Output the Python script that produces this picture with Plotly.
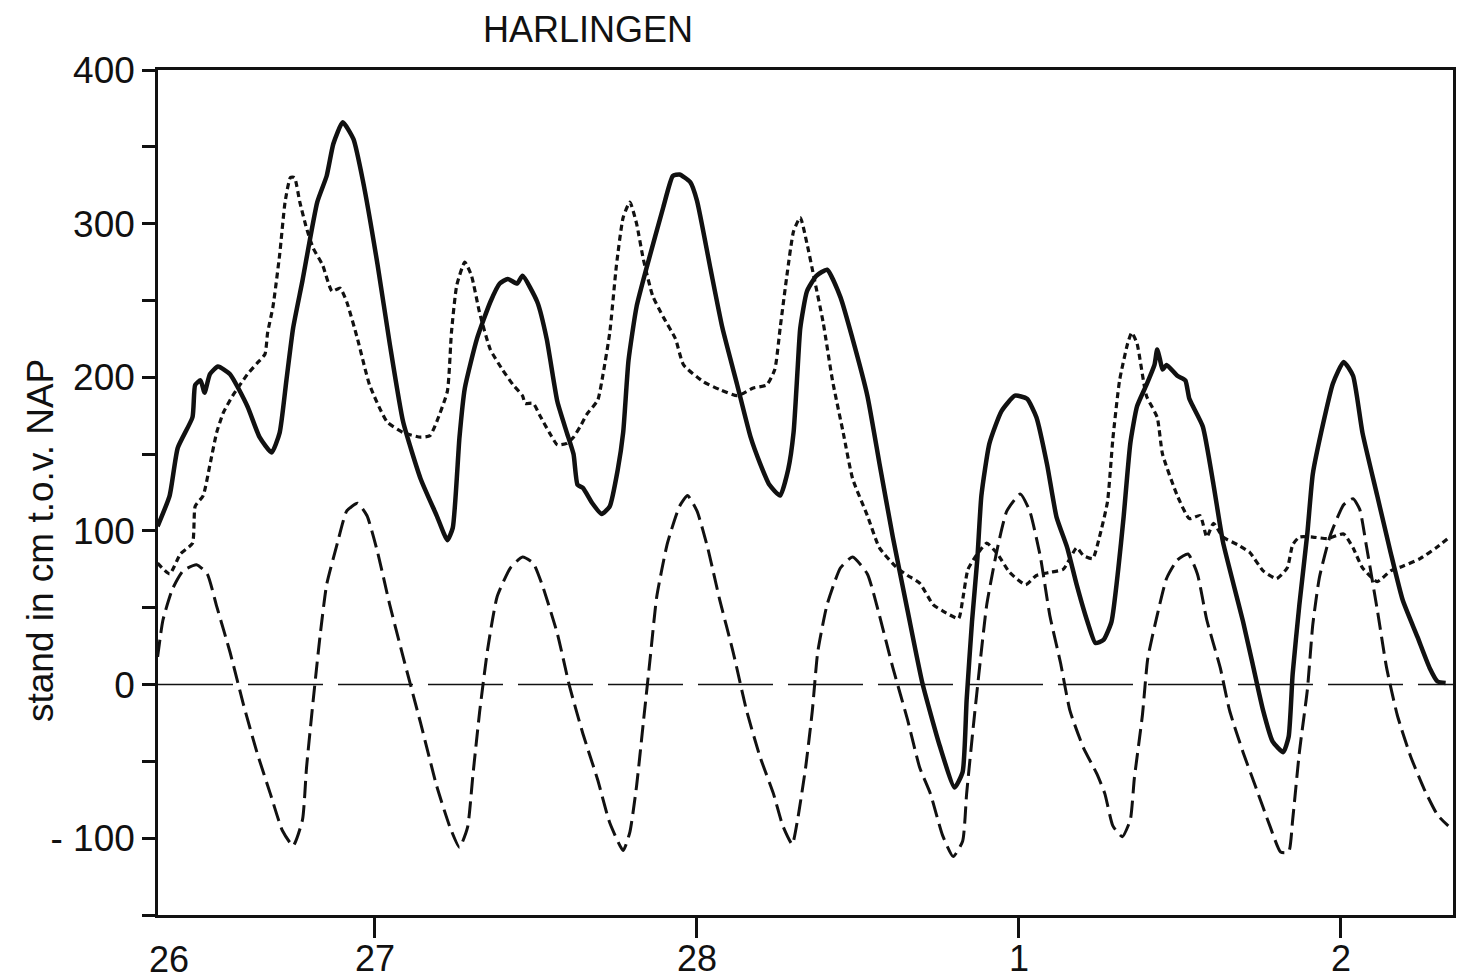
import plotly.graph_objects as go

# time axis: hours since 26 Feb 00:00
day_tick_hours = [24, 48, 72, 96]
day_tick_labels = ["27", "28", "1", "2"]
first_day_label = "26"
x_start_hour = 7.83
x_end_hour = 104.35

y_tick_values = [-150, -100, -50, 0, 50, 100, 150, 200, 250, 300, 350, 400]
y_tick_labels = ["", "- 100", "", "0", "", "100", "", "200", "", "300", "", "400"]

# observed water level (solid)
obs_hour = [7.8, 8.7, 9.3, 10.4, 10.6, 11.0, 11.3, 11.7, 12.3, 13.2,
            14.5, 15.4, 16.3, 16.9, 17.4, 17.9, 18.6, 19.7, 20.4, 20.9,
            21.6, 22.4, 23.1, 24.2, 25.1, 26.1, 27.4, 28.6, 29.4, 29.8,
            30.3, 30.7, 31.6, 32.6, 33.3, 33.9, 34.6, 35.0, 36.1, 36.8,
            37.6, 38.3, 38.8, 39.1, 39.5, 40.2, 40.9, 41.5, 42.1, 42.5,
            42.9, 43.5, 44.3, 45.5, 46.2, 46.7, 47.5, 48.0, 49.0, 49.9,
            51.0, 52.0, 52.7, 53.4, 54.2, 54.8, 55.2, 55.5, 55.7, 56.2,
            56.9, 57.7, 58.7, 59.6, 60.7, 61.6, 62.6, 63.7, 64.8, 66.1,
            67.2, 67.8, 68.1, 68.5, 68.9, 69.2, 69.8, 70.7, 71.7, 72.6,
            73.3, 74.1, 74.8, 75.6, 76.3, 77.1, 77.7, 78.3, 78.9, 79.4,
            79.8, 80.3, 80.8, 81.5, 82.1, 82.3, 82.5, 82.7, 83.0, 83.8,
            84.4, 84.7, 85.7, 86.5, 87.2, 88.0, 88.7, 89.4, 90.2, 90.9,
            91.7, 92.1, 92.4, 92.9, 93.5, 93.9, 94.7, 95.4, 96.2, 96.9,
            97.6, 98.7, 99.7, 100.6, 101.7, 102.6, 103.2, 103.8]
obs_cm = [103, 123, 154, 174, 195, 198, 190, 202, 207, 202,
          181, 161, 151, 164, 198, 232, 263, 314, 331, 352,
          366, 355, 328, 273, 222, 171, 134, 110, 94, 102,
          161, 193, 225, 249, 261, 264, 261, 266, 249, 225,
          184, 164, 150, 130, 128, 118, 111, 116, 140, 164,
          211, 246, 273, 311, 331, 332, 327, 315, 271, 232,
          195, 161, 144, 130, 123, 140, 164, 205, 232, 256,
          266, 270, 252, 225, 188, 144, 96, 48, 1, -40,
          -67, -57, -10, 41, 82, 123, 157, 178, 188, 186,
          174, 143, 109, 89, 65, 41, 27, 29, 41, 75,
          109, 157, 181, 195, 208, 218, 212, 205, 208, 201,
          198, 186, 168, 130, 93, 65, 41, 14, -17, -37,
          -44, -34, 7, 52, 99, 137, 171, 196, 210, 201,
          164, 123, 86, 55, 31, 11, 2, 1]

# surge (short dashes)
surge_hour = [7.8, 8.7, 9.5, 10.4, 10.6, 11.2, 11.7, 12.2, 12.7, 13.4,
              14.5, 15.2, 15.8, 16.0, 16.4, 16.9, 17.3, 17.7, 18.0, 18.4,
              18.9, 19.4, 20.1, 20.8, 21.4, 21.9, 22.7, 23.6, 24.9, 26.1,
              27.4, 28.1, 28.6, 29.4, 29.7, 30.1, 30.7, 31.2, 31.8, 32.6,
              33.5, 34.3, 35.0, 35.2, 35.8, 36.3, 37.0, 37.6, 38.3, 38.8,
              39.3, 39.8, 40.6, 41.0, 41.5, 42.0, 42.5, 43.0, 43.5, 44.0,
              44.7, 45.5, 46.4, 47.0, 48.5, 49.7, 51.0, 52.2, 53.2, 53.8,
              54.2, 54.7, 55.2, 55.7, 56.2, 56.7, 57.4, 58.1, 58.9, 59.6,
              60.7, 61.6, 62.9, 63.7, 64.6, 65.6, 66.3, 67.5, 67.8, 68.2,
              68.9, 69.6, 70.4, 71.3, 72.5, 73.3, 74.3, 75.3, 76.3, 76.8,
              77.5, 78.0, 78.6, 79.0, 79.5, 80.1, 80.4, 80.8, 81.5, 82.3,
              82.7, 83.8, 84.7, 85.5, 86.0, 86.5, 87.2, 88.3, 89.2, 90.2,
              91.2, 92.0, 92.4, 92.9, 93.9, 95.0, 96.2, 96.9, 97.6, 98.7,
              99.7, 100.6, 101.9, 103.1, 104.1]
surge_cm = [79, 72, 85, 92, 116, 123, 143, 164, 177, 188,
            202, 209, 215, 229, 246, 280, 314, 330, 330, 314,
            297, 284, 273, 256, 258, 249, 225, 195, 171, 164,
            161, 162, 171, 191, 229, 260, 275, 266, 242, 218,
            205, 195, 188, 183, 183, 175, 164, 156, 157, 161,
            168, 176, 185, 202, 229, 273, 304, 314, 300, 277,
            253, 239, 225, 208, 197, 192, 188, 193, 195, 205,
            232, 266, 295, 304, 287, 266, 236, 198, 164, 134,
            110, 89, 76, 71, 66, 52, 48, 43, 55, 75,
            85, 92, 85, 73, 65, 71, 73, 75, 89, 84,
            82, 96, 119, 160, 198, 222, 229, 222, 188, 174,
            150, 123, 108, 110, 96, 105, 96, 91, 86, 74,
            69, 76, 91, 96, 96, 95, 98, 89, 76, 67,
            74, 77, 82, 89, 96]

# astronomical tide (long dashes)
astro_hour = [7.8, 8.2, 8.9, 9.7, 10.7, 11.5, 12.2, 13.2, 14.2, 15.2,
              16.2, 17.1, 17.9, 18.6, 18.9, 19.4, 19.9, 20.4, 21.2, 21.9,
              22.7, 23.4, 24.2, 25.1, 26.1, 27.4, 28.6, 29.6, 30.3, 30.9,
              31.3, 31.8, 32.4, 33.1, 34.1, 35.0, 35.8, 36.5, 37.6, 38.5,
              39.5, 40.6, 41.5, 42.5, 43.0, 43.5, 44.0, 44.5, 45.0, 45.8,
              46.7, 47.3, 48.0, 48.8, 49.7, 50.7, 51.7, 52.7, 53.7, 54.4,
              55.1, 55.5, 56.1, 56.6, 57.0, 57.7, 58.7, 59.6, 60.7, 61.6,
              62.6, 63.7, 64.6, 65.4, 66.3, 67.1, 67.8, 68.1, 68.6, 69.1,
              69.6, 70.4, 71.1, 72.1, 72.8, 73.6, 74.3, 75.1, 75.8, 76.8,
              77.8, 78.4, 79.0, 79.7, 80.3, 80.6, 81.2, 81.6, 82.3, 83.0,
              83.8, 84.6, 85.3, 86.0, 87.0, 87.7, 88.7, 89.7, 90.7, 91.5,
              92.1, 92.4, 92.9, 93.5, 93.9, 94.4, 95.2, 96.2, 96.9, 97.4,
              97.9, 98.7, 99.4, 100.2, 101.2, 102.2, 103.2, 104.0]
astro_cm = [18, 42, 62, 74, 78, 72, 51, 21, -13, -44,
            -71, -95, -105, -88, -54, -10, 31, 65, 92, 113,
            118, 110, 86, 52, 18, -25, -66, -93, -106, -93,
            -59, -18, 23, 57, 76, 83, 79, 64, 33, -1,
            -32, -62, -90, -108, -96, -66, -25, 16, 57, 92,
            116, 123, 113, 89, 55, 21, -17, -47, -71, -92,
            -104, -88, -54, -17, 21, 52, 76, 83, 72, 45,
            11, -23, -54, -71, -98, -112, -102, -71, -27, 14,
            52, 89, 113, 124, 113, 83, 45, 14, -17, -41,
            -58, -71, -92, -99, -88, -61, -20, 17, 45, 69,
            81, 85, 72, 42, 11, -17, -44, -68, -92, -109,
            -109, -88, -44, -3, 39, 70, 97, 117, 121, 114,
            90, 49, 11, -20, -47, -68, -85, -92]

assert len(obs_hour) == len(obs_cm)
assert len(surge_hour) == len(surge_cm)
assert len(astro_hour) == len(astro_cm)

FONT = "Liberation Sans"
BLACK = "#111111"

fig = go.Figure()
fig.add_trace(go.Scatter(x=surge_hour, y=surge_cm, mode="lines",
                         line=dict(color=BLACK, width=3.2, dash="6px,4px",
                                   shape="spline", smoothing=0.5),
                         showlegend=False, hoverinfo="skip"))
fig.add_trace(go.Scatter(x=astro_hour, y=astro_cm, mode="lines",
                         line=dict(color=BLACK, width=3.0, dash="17px,7px",
                                   shape="spline", smoothing=0.5),
                         showlegend=False, hoverinfo="skip"))
fig.add_trace(go.Scatter(x=obs_hour, y=obs_cm, mode="lines",
                         line=dict(color=BLACK, width=4.5,
                                   shape="spline", smoothing=0.5),
                         showlegend=False, hoverinfo="skip"))

# zero reference line
fig.add_shape(type="line", xref="paper", x0=0, x1=1, yref="y", y0=0, y1=0,
              line=dict(color=BLACK, width=1.6, dash="75px,15px"), layer="below")

fig.update_layout(
    width=1474, height=980,
    margin=dict(l=158, r=21, t=70, b=65, autoexpand=False),
    paper_bgcolor="white", plot_bgcolor="white",
    font=dict(family=FONT, color=BLACK, size=36),
    showlegend=False,
    xaxis=dict(range=[x_start_hour, x_end_hour], tickmode="array",
               tickvals=day_tick_hours, ticktext=day_tick_labels,
               ticks="outside", ticklen=20, tickwidth=2.5, tickcolor=BLACK,
               ticklabelstandoff=-10,
               showline=True, linewidth=2.5, linecolor=BLACK, mirror=True,
               showgrid=False, zeroline=False, automargin=False,
               tickfont=dict(family=FONT, size=36, color=BLACK)),
    yaxis=dict(range=[-150, 400], tickmode="array",
               tickvals=y_tick_values, ticktext=y_tick_labels,
               ticks="outside", ticklen=13, tickwidth=2.5, tickcolor=BLACK,
               showline=True, linewidth=2.5, linecolor=BLACK, mirror=True,
               showgrid=False, zeroline=False, automargin=False,
               tickfont=dict(family=FONT, size=37, color=BLACK)),
    annotations=[
        dict(text="HARLINGEN", xref="paper", yref="paper",
             x=(588 - 158) / 1295, y=(915 - 30) / 845,
             xanchor="center", yanchor="middle", showarrow=False,
             font=dict(family=FONT, size=36, color=BLACK)),
        dict(text="stand in cm t.o.v. NAP", xref="paper", yref="paper",
             x=(40 - 158) / 1295, y=(915 - 541) / 845, textangle=-90,
             xanchor="center", yanchor="middle", showarrow=False,
             font=dict(family=FONT, size=37, color=BLACK)),
        dict(text=first_day_label, xref="x", yref="paper",
             x=x_start_hour + 0.8, y=0, yshift=-22,
             xanchor="center", yanchor="top", showarrow=False,
             font=dict(family=FONT, size=36, color=BLACK)),
    ],
)

fig.write_html("out.html", config={"displayModeBar": False},
               post_script="document.body.style.margin='0';")
